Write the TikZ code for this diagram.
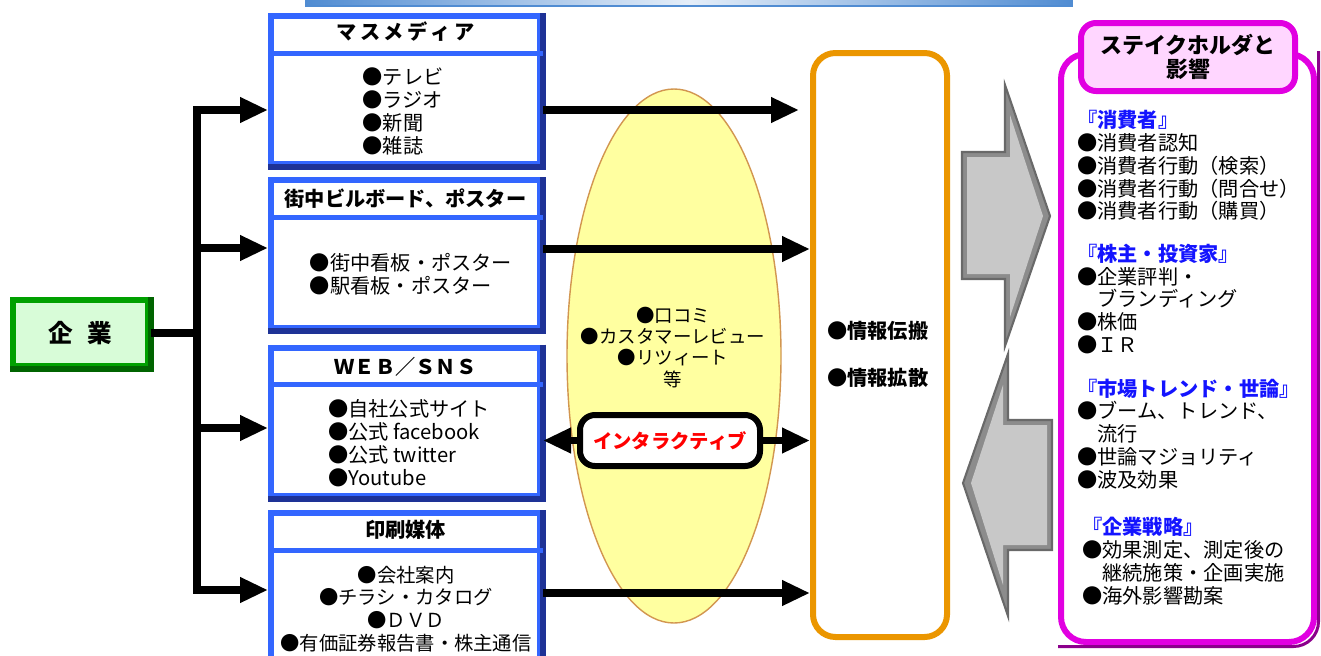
\documentclass[tikz,border=0pt]{standalone}
\usepackage{fontspec}
\setmainfont{Noto Sans CJK JP}
\usepackage{xcolor}
\usetikzlibrary{shapes, positioning, arrows.meta}

\definecolor{azul}{RGB}{51,102,255}
\definecolor{azuloscuro}{RGB}{30,50,150}
\definecolor{tira}{RGB}{80,140,210}
\definecolor{verde}{RGB}{0,160,0}
\definecolor{verdeoscuro}{RGB}{0,100,0}
\definecolor{verdeclaro}{RGB}{216,252,216}
\definecolor{naranja}{RGB}{235,150,0}
\definecolor{amarillo}{RGB}{255,255,160}
\definecolor{cafe}{RGB}{210,150,80}
\definecolor{fucsia}{RGB}{225,0,225}
\definecolor{morado}{RGB}{140,0,140}
\definecolor{rosa}{RGB}{255,214,255}
\definecolor{gris}{RGB}{200,200,200}
\definecolor{grismedio}{RGB}{140,140,140}
\definecolor{grisoscuro}{RGB}{105,105,105}
\definecolor{azultitulo}{RGB}{20,20,255}

\tikzset{
  texto/.style={font=\fontsize{11.5}{13}\selectfont, inner sep=0pt},
  titulo/.style={font=\fontsize{11.5}{13}\selectfont\bfseries, inner sep=0pt},
  medio/.style={draw=azul, fill=white, line width=0.12cm, minimum width=5.38cm, minimum height=2.96cm},
  bisel/.style={draw=azuloscuro, line width=0.12cm},
  separador/.style={draw=azul, line width=0.1cm},
  flecha/.style={line width=4pt, -{Triangle[length=0.56cm, width=0.48cm]}},
  linea/.style={line width=4.3pt},
  flechagris/.style={fill=grismedio, draw=grisoscuro, line width=1.2pt, line join=miter},
}

\begin{document}
\begin{tikzpicture}

\useasboundingbox (0,0) rectangle (26.42,-13.1);

% Franja superior
\shade[left color=tira, right color=tira, middle color=white!85!tira] (6.12,0) rectangle (21.44,-0.12);
\draw[tira, line width=0.8pt] (6.12,0.05) -- (6.12,-0.12) -- (21.44,-0.12) -- (21.44,0.05);

% Empresa
\node[draw=verde, fill=verdeclaro, line width=0.12cm, minimum width=2.7cm, minimum height=1.32cm,
      font=\fontsize{14}{16}\selectfont\bfseries] (empresa) at (1.61,-6.66) {企\hspace{0.6em}業};
\draw[bisel, draw=verdeoscuro] (empresa.north east) -- (empresa.south east) -- (empresa.south west);

% Burbuja amarilla (boca a boca)
\node[ellipse, draw=cafe, fill=amarillo, line width=0.8pt, minimum width=4.28cm, minimum height=10.68cm] (burbuja) at (13.48,-7.12) {};
\node[align=center, font=\fontsize{10.5}{12}\selectfont, inner sep=0pt] (boca) at (13.46,-6.95)
  {●口コミ\\●カスタマーレビュー\\●リツィート\\等};

% Medios (cuadros azules)
\node[medio] (masmedia) at (8.11,-1.8) {};
\node[medio] (cartel) at (8.11,-5.08) {};
\node[medio] (web) at (8.11,-8.43) {};
\node[medio, minimum height=3.08cm] (impreso) at (8.11,-11.8) {};

\foreach \b in {masmedia,cartel,web,impreso} {
  \draw[bisel] (\b.north east) -- (\b.south east) -- (\b.south west);
  \draw[separador] ([yshift=-0.8cm]\b.north west) -- ([yshift=-0.8cm]\b.north east);
}

% Titulos de los medios
\node[titulo] (t1) at ([yshift=-0.38cm]masmedia.north) {マ\,ス\,メ\,デ\,ィ\,ア};
\node[titulo] (t2) at ([yshift=-0.44cm]cartel.north) {街中ビルボード、ポスター};
\node[titulo] (t3) at ([yshift=-0.44cm]web.north) {ＷＥＢ／ＳＮＳ};
\node[titulo] (t4) at ([yshift=-0.4cm]impreso.north) {印刷媒体};

% Contenido de los medios
\node[texto, align=left] (l1) at (8.06,-2.23) {●テレビ\\●ラジオ\\●新聞\\●雑誌};
\node[texto, align=left] (l2) at (8.22,-5.48) {●街中看板・ポスター\\●駅看板・ポスター};
\node[texto, align=left] (l3) at (8.18,-8.86) {●自社公式サイト\\●公式 facebook\\●公式 twitter\\●Youtube};
\node[texto, align=center, font=\fontsize{11}{13}\selectfont] (l4) at (8.12,-12.18)
  {●会社案内\\●チラシ・カタログ\\●ＤＶＤ\\●有価証券報告書・株主通信};

% Bus de conexiones desde la empresa
\coordinate (b1) at (3.94,-2.2);
\coordinate (b2) at (3.94,-4.96);
\coordinate (b3) at (3.94,-8.56);
\coordinate (b4) at (3.94,-11.8);
\draw[linea] (empresa.east) -- (empresa.east -| b1);
\draw[linea, line cap=rect] (b1) -- (b4);
\draw[flecha] (b1) -- (b1 -| masmedia.west);
\draw[flecha] (b2) -- (b2 -| cartel.west);
\draw[flecha] (b3) -- (b3 -| web.west);
\draw[flecha] (b4) -- (b4 -| impreso.west);

% Difusion de informacion
\node[draw=naranja, fill=white, line width=0.12cm, rounded corners=0.45cm, minimum width=2.68cm, minimum height=11.68cm] (info) at (17.6,-6.9) {};
\node[titulo, anchor=west] (n1) at (16.54,-6.62) {●情報伝搬};
\node[titulo, anchor=west] (n2) at (16.54,-7.56) {●情報拡散};

\draw[flecha] (masmedia.east |- b1) -- ([xshift=-0.22cm]info.west |- b1);
\draw[flecha] (cartel.east |- 0,-4.98) -- (info.west |- 0,-4.98);
\draw[flecha] (impreso.east |- 0,-11.86) -- (info.west |- 0,-11.86);

% Interactiva
\node[draw=black, fill=white, line width=0.12cm, rounded corners=0.3cm, minimum width=3.6cm, minimum height=1.02cm,
      text=red, font=\fontsize{11}{13}\selectfont\bfseries] (inter) at (13.4,-8.81) {インタラクティブ};
\draw[flecha] (inter.west) -- (inter.west -| web.east);
\draw[flecha] (inter.east) -- (inter.east -| info.west);

% Flechas grises (con bisel)
\filldraw[flechagris] (19.24,-3.04) -- (20.1,-3.04) -- (20.1,-1.7) -- (21.0,-4.32) -- (20.1,-6.92) -- (20.1,-5.58) -- (19.24,-5.58) -- cycle;
\fill[gris] (19.34,-3.14) -- (20.2,-3.14) -- (20.2,-2.3) -- (20.86,-4.32) -- (20.2,-6.34) -- (20.2,-5.48) -- (19.34,-5.48) -- cycle;
\filldraw[flechagris] (21.04,-8.4) -- (20.16,-8.4) -- (20.16,-7.08) -- (19.26,-9.66) -- (20.16,-12.32) -- (20.16,-11.0) -- (21.04,-11.0) -- cycle;
\fill[gris] (20.94,-8.5) -- (20.06,-8.5) -- (20.06,-7.7) -- (19.42,-9.66) -- (20.06,-11.7) -- (20.06,-10.9) -- (20.94,-10.9) -- cycle;

% Stakeholders
\node[draw=fucsia, fill=white, line width=0.12cm, rounded corners=0.5cm, minimum width=5.06cm, minimum height=11.76cm] (panel) at (23.75,-6.96) {};
\draw[draw=morado, line width=0.06cm, rounded corners=0.5cm] ([xshift=0.03cm]panel.north east) -- ([xshift=0.03cm,yshift=-0.03cm]panel.south east) -- ([yshift=-0.03cm]panel.south west);
\node[draw=fucsia, fill=rosa, line width=0.12cm, rounded corners=0.3cm, minimum width=4.28cm, minimum height=1.36cm,
      align=center, font=\fontsize{12.5}{13.7}\selectfont\bfseries] (titulo) at (23.76,-1.14) {ステイクホルダと\\影響};

\node[texto, align=left, anchor=west] (consumidor) at (21.54,-3.31)
  {\textcolor{azultitulo}{\bfseries 『消費者』}\\●消費者認知\\●消費者行動（検索）\\●消費者行動（問合せ）\\●消費者行動（購買）};
\node[texto, align=left, anchor=west] (accionista) at (21.54,-5.98)
  {\textcolor{azultitulo}{\bfseries 『株主・投資家』}\\●企業評判・\\　ブランディング\\●株価\\●ＩＲ};
\node[texto, align=left, anchor=west] (mercado) at (21.54,-8.68)
  {\textcolor{azultitulo}{\bfseries 『市場トレンド・世論』}\\●ブーム、トレンド、\\　流行\\●世論マジョリティ\\●波及効果};
\node[texto, align=left, anchor=west] (estrategia) at (21.64,-11.22)
  {\textcolor{azultitulo}{\bfseries 『企業戦略』}\\●効果測定、測定後の\\　継続施策・企画実施\\●海外影響勘案};

\end{tikzpicture}
\end{document}
